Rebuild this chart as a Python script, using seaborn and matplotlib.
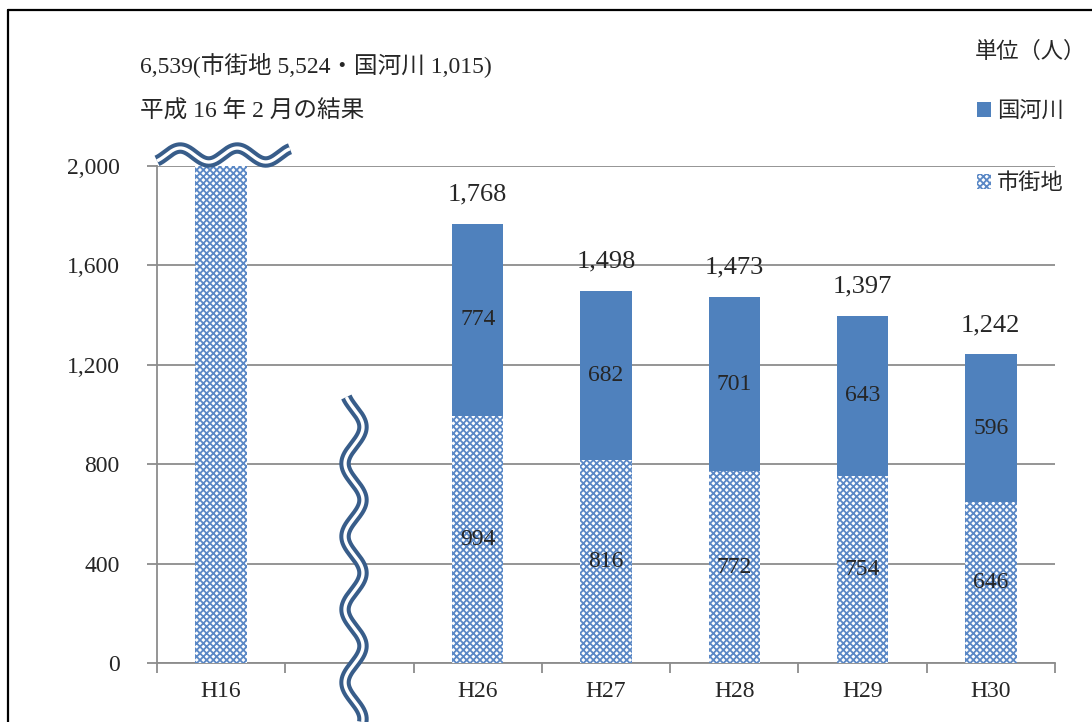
import numpy as np
import pandas as pd
import matplotlib
matplotlib.use("Agg")
import matplotlib.pyplot as plt
from matplotlib.patches import Patch
from matplotlib.lines import Line2D
import seaborn as sns

# ---- data ----
years = ["H16", " ", "H26", "H27", "H28", "H29", "H30"]
shigaichi = [5524, 0, 994, 816, 772, 754, 646]     # 市街地
kokugasen = [1015, 0, 774, 682, 701, 643, 596]     # 国河川
totals = [6539, 0, 1768, 1498, 1473, 1397, 1242]
yticks = [0, 400, 800, 1200, 1600, 2000]

sns.set_theme(style="white")
plt.rcParams['font.family'] = ['Liberation Serif', 'Noto Sans CJK JP', 'DejaVu Sans']
plt.rcParams['hatch.linewidth'] = 1.3

W, H = 1092, 722
fig = plt.figure(figsize=(W / 100, H / 100), dpi=100)
ax = fig.add_axes([157 / W, 1 - 663 / H, (1055 - 157) / W, (663 - 166) / H])

df = pd.DataFrame({"year": years, "shigaichi": shigaichi,
                   "kokugasen": kokugasen, "total": totals})

blue = "#4f81bd"
hatch_col = "#5a88c6"
sns.barplot(data=df, x="year", y="total", order=years, color=blue,
            saturation=1, width=0.4, linewidth=0, ax=ax, zorder=2)
sns.barplot(data=df, x="year", y="shigaichi", order=years, color="white",
            saturation=1, width=0.4, linewidth=0, edgecolor=hatch_col,
            hatch="xxxxx", ax=ax, zorder=3)

ax.set_ylim(0, 2000)
ax.set_xlim(-0.5, len(years) - 0.5)
ax.set_yticks(yticks)
ax.set_yticklabels([f"{v:,}" for v in yticks], fontsize=17)
ax.yaxis.grid(True, color="#8c8c8c", linewidth=1.3, zorder=0)
ax.set_axisbelow(True)

# x ticks at category boundaries, labels at centers
ax.set_xticks(np.arange(-0.5, len(years), 1.0))
ax.set_xticklabels([])
ax.set_xticks(np.arange(len(years)), minor=True)
ax.set_xticklabels(years, minor=True, fontsize=17)
ax.tick_params(axis="x", which="major", length=7, width=1.3, color="#8c8c8c", direction="out", bottom=True)
ax.tick_params(axis="x", which="minor", length=0, pad=13, bottom=True)
ax.tick_params(axis="y", length=7, width=1.3, color="#8c8c8c", direction="out", left=True, pad=20)
ax.set_xlabel("")
ax.set_ylabel("")
for s in ["top", "right"]:
    ax.spines[s].set_visible(False)
for s in ["left", "bottom"]:
    ax.spines[s].set_color("#8c8c8c")
    ax.spines[s].set_linewidth(1.3)

# data labels
for i, yr in enumerate(years):
    if yr in ("H16", " "):
        continue
    s, k, t = shigaichi[i], kokugasen[i], totals[i]
    ax.text(i, s / 2, f"{s}", ha="center", va="center", fontsize=17, zorder=5)
    ax.text(i, s + k / 2, f"{k}", ha="center", va="center", fontsize=17, zorder=5)
    ax.text(i, t + 118, f"{t:,}", ha="center", va="center", fontsize=19, zorder=5)

# header texts
fig.text(140 / W, 1 - 65 / H, "6,539(市街地 5,524・国河川 1,015)", fontsize=17, va="center", ha="left")
fig.text(140 / W, 1 - 112 / H, "平成 16 年 2 月の結果", fontsize=17, va="center", ha="left")
fig.text(975 / W, 1 - 52 / H, "単位（人）", fontsize=16, va="center", ha="left")

# legend
handles = [Patch(facecolor=blue, edgecolor="none", label="国河川"),
           Patch(facecolor="white", edgecolor=hatch_col, hatch="xxxxx", linewidth=0, label="市街地")]
fig.legend(handles=handles, loc="upper left", bbox_to_anchor=(968 / W, 1 - 93 / H),
           frameon=False, fontsize=16, handlelength=0.65, handleheight=0.65,
           handletextpad=0.25, labelspacing=2.3, borderaxespad=0)

# break marks (decorations)
wave_col = "#385d8a"
xs = np.linspace(157, 290, 300)
ys = 155 - 7 * np.sin(2 * np.pi * (xs - 166) / 57)
yv = np.linspace(397, 722, 400)
xv = 354 + 9 * np.sin(2 * np.pi * (yv - 408.75) / 73)
for (px, py) in [(xs, ys), (xv, yv)]:
    fx, fy = px / W, 1 - py / H
    fig.add_artist(Line2D(fx, fy, color=wave_col, linewidth=8.2, solid_capstyle="butt", zorder=10))
    fig.add_artist(Line2D(fx, fy, color="white", linewidth=2.4, solid_capstyle="butt", zorder=11))

# outer frame (partially cut)
fig.add_artist(Line2D([8 / W, 8 / W], [0, 1 - 10 / H], color="black", linewidth=1.6))
fig.add_artist(Line2D([8 / W, 1], [1 - 10 / H, 1 - 10 / H], color="black", linewidth=1.6))

fig.savefig("out.png", dpi=100)
